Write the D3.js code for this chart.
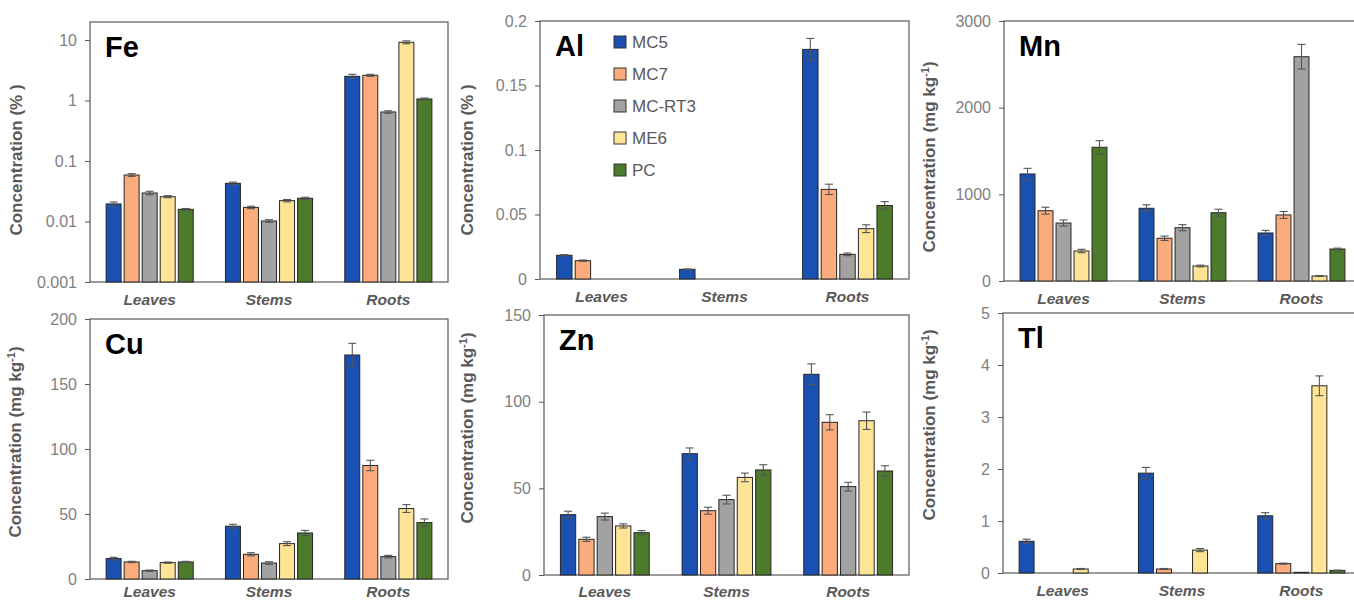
<!DOCTYPE html>
<meta charset="utf-8">
<style>
body { margin: 0; background: #fff; }
svg { font-family: "Liberation Sans", Arial, sans-serif; }
.frame { fill: none; stroke: #595959; stroke-width: 1.2; }
.tick text { fill: #808080; font-size: 16px; }
.tick line { stroke: #595959; }
.ylab { fill: #595959; font-size: 17px; font-weight: bold; }
.cat { fill: #595959; font-size: 15.5px; font-weight: bold; font-style: italic; }
.title { fill: #000; font-size: 29px; font-weight: bold; }
.bar { stroke: #262626; stroke-width: 1; }
.err { stroke: #555; stroke-width: 1.1; }
.leg text { fill: #595959; font-size: 17px; }
</style>
<body>
<svg width="1354" height="601"></svg>
</body>
<script src="https://cdn.jsdelivr.net/npm/d3@7"></script>
<script>

var categories = ["Leaves", "Stems", "Roots"];
var series = ["MC5", "MC7", "MC-RT3", "ME6", "PC"];
var colors = ["#1a50b2", "#fbab7c", "#a2a2a2", "#ffe495", "#4c7b2c"];

// values[series][category], errors likewise
var feValues = [[0.0195, 0.0428, 2.51], [0.0587, 0.0171, 2.61], [0.0296, 0.0102, 0.646], [0.0257, 0.0221, 9.17], [0.0159, 0.0242, 1.06]];
var feErrors = [[0.0015, 0.002, 0.2], [0.003, 0.0008, 0.1], [0.002, 0.0005, 0.03], [0.001, 0.001, 0.5], [0.0005, 0.001, 0.04]];

var alValues = [[0.0184, 0.0075, 0.178], [0.0142, 0, 0.0695], [0, 0, 0.0191], [0, 0, 0.039], [0, 0, 0.057]];
var alErrors = [[0.0005, 0.0003, 0.0085], [0.0005, 0, 0.004], [0, 0, 0.001], [0, 0, 0.003], [0, 0, 0.003]];

var mnValues = [[1235, 839, 554], [811, 493, 762], [669, 615, 2588], [346, 173, 58], [1543, 788, 369]];
var mnErrors = [[65, 40, 30], [40, 25, 40], [35, 35, 142], [20, 10, 5], [76, 40, 10]];

var cuValues = [[15.7, 40.6, 172.3], [13.1, 19.0, 87.3], [6.4, 12.3, 17.2], [12.6, 27.2, 54.2], [13.1, 35.4, 43.4]];
var cuErrors = [[1, 1.5, 9], [0.5, 1.2, 4], [0.5, 1, 1], [0.5, 1.5, 3], [0.5, 2, 2.8]];

var znValues = [[34.8, 70.0, 115.8], [20.6, 37.1, 88.1], [33.7, 43.5, 51.0], [28.3, 56.3, 89.0], [24.4, 60.6, 60.0]];
var znErrors = [[2, 3.3, 6], [1.2, 2, 4.4], [2, 2.5, 2.5], [1.2, 2.5, 5], [1.2, 3, 3]];

var tlValues = [[0.61, 1.92, 1.10], [0, 0.077, 0.18], [0, 0, 0.013], [0.077, 0.44, 3.60], [0, 0, 0.05]];
var tlErrors = [[0.04, 0.11, 0.06], [0, 0.01, 0.01], [0, 0, 0], [0.01, 0.03, 0.19], [0, 0, 0.005]];

var feTicks = [0.001, 0.01, 0.1, 1, 10];
var alTicks = [0, 0.05, 0.1, 0.15, 0.2];
var mnTicks = [0, 1000, 2000, 3000];
var cuTicks = [0, 50, 100, 150, 200];
var znTicks = [0, 50, 100, 150];
var tlTicks = [0, 1, 2, 3, 4, 5];

var svg = d3.select("svg");

var panels = [
  {name: "Fe", unit: "%", log: true, domain: [0.001, 10], ticks: feTicks, values: feValues, errors: feErrors,
   left: 90, right: 448, top: 40, frameTop: 22, bottom: 282, labX: 22, labY: 160},
  {name: "Al", unit: "%", domain: [0, 0.2], ticks: alTicks, values: alValues, errors: alErrors,
   left: 540, right: 909, top: 21, bottom: 279, labX: 473, labY: 160, legend: true},
  {name: "Mn", unit: "mg", domain: [0, 3000], ticks: mnTicks, values: mnValues, errors: mnErrors,
   left: 1004, right: 1361, top: 21, bottom: 281, labX: 935, labY: 157},
  {name: "Cu", unit: "mg", domain: [0, 200], ticks: cuTicks, values: cuValues, errors: cuErrors,
   left: 90, right: 448, top: 319, bottom: 579, labX: 21, labY: 442},
  {name: "Zn", unit: "mg", domain: [0, 150], ticks: znTicks, values: znValues, errors: znErrors,
   left: 544, right: 909, top: 315, bottom: 575, labX: 473, labY: 428},
  {name: "Tl", unit: "mg", domain: [0, 5], ticks: tlTicks, values: tlValues, errors: tlErrors,
   left: 1003, right: 1361, top: 313, bottom: 573, labX: 935, labY: 425}
];

panels.forEach(function(p) {
  var g = svg.append("g");
  var frameTop = p.frameTop || p.top;

  var y = (p.log ? d3.scaleLog() : d3.scaleLinear())
      .domain(p.domain)
      .range([p.bottom, p.top]);

  var x0 = d3.scaleBand()
      .domain(categories)
      .range([p.left, p.right]);

  var x1 = d3.scaleBand()
      .domain(series)
      .range([x0.bandwidth() * 0.135, x0.bandwidth() * 0.865])
      .paddingInner(0.17);

  g.append("rect")
      .attr("class", "frame")
      .attr("x", p.left)
      .attr("y", frameTop)
      .attr("width", p.right - p.left)
      .attr("height", p.bottom - frameTop);

  var axis = g.append("g")
      .attr("transform", "translate(" + p.left + ",0)")
      .call(d3.axisLeft(y)
        .tickValues(p.ticks)
        .tickSize(5)
        .tickPadding(8)
        .tickFormat(function(d) { return String(d); }));
  axis.select(".domain").remove();

  var bars = [];
  p.values.forEach(function(row, si) {
    row.forEach(function(v, ci) {
      if (v > 0) bars.push({s: si, c: ci, v: v, e: p.errors[si][ci]});
    });
  });

  var base = p.log ? p.domain[0] : 0;

  g.selectAll(".bar")
    .data(bars)
    .enter().append("rect")
      .attr("class", "bar")
      .attr("x", function(d) { return x0(categories[d.c]) + x1(series[d.s]); })
      .attr("y", function(d) { return y(d.v); })
      .attr("width", x1.bandwidth())
      .attr("height", function(d) { return y(base) - y(d.v); })
      .attr("fill", function(d) { return colors[d.s]; });

  var eb = g.selectAll(".eb")
    .data(bars.filter(function(d) { return d.e > 0; }))
    .enter().append("g")
      .attr("transform", function(d) {
        return "translate(" + (x0(categories[d.c]) + x1(series[d.s]) + x1.bandwidth() / 2) + ",0)";
      });
  eb.append("line").attr("class", "err")
      .attr("y1", function(d) { return y(Math.max(d.v - d.e, p.log ? 1e-6 : 0)); })
      .attr("y2", function(d) { return y(d.v + d.e); });
  eb.append("line").attr("class", "err")
      .attr("x1", -4).attr("x2", 4)
      .attr("y1", function(d) { return y(d.v + d.e); })
      .attr("y2", function(d) { return y(d.v + d.e); });
  eb.append("line").attr("class", "err")
      .attr("x1", -4).attr("x2", 4)
      .attr("y1", function(d) { return y(Math.max(d.v - d.e, p.log ? 1e-6 : 0)); })
      .attr("y2", function(d) { return y(Math.max(d.v - d.e, p.log ? 1e-6 : 0)); });

  g.selectAll(".cat")
    .data(categories)
    .enter().append("text")
      .attr("class", "cat")
      .attr("x", function(d) { return x0(d) + x0.bandwidth() / 2; })
      .attr("y", Math.min(p.bottom + 23, 597))
      .attr("text-anchor", "middle")
      .text(function(d) { return d; });

  g.append("text")
      .attr("class", "title")
      .attr("x", p.left + 15)
      .attr("y", frameTop + 35)
      .text(p.name);

  var lab = g.append("text")
      .attr("class", "ylab")
      .attr("text-anchor", "middle")
      .attr("transform", "translate(" + p.labX + "," + p.labY + ") rotate(-90)");
  if (p.unit === "%") {
    lab.text("Concentration (% )");
  } else {
    lab.append("tspan").text("Concentration (mg kg");
    lab.append("tspan").attr("dy", -6).attr("font-size", "11px").text("-1");
    lab.append("tspan").attr("dy", 6).text(")");
  }

  if (p.legend) {
    var leg = g.append("g").attr("class", "leg")
        .attr("transform", "translate(614,42)");
    var li = leg.selectAll("g")
      .data(series)
      .enter().append("g")
        .attr("transform", function(d, i) { return "translate(0," + (i * 32) + ")"; });
    li.append("rect")
        .attr("x", 0).attr("y", -6)
        .attr("width", 12).attr("height", 12)
        .attr("fill", function(d, i) { return colors[i]; })
        .attr("stroke", "#333");
    li.append("text")
        .attr("x", 18).attr("y", 6)
        .text(function(d) { return d; });
  }
});

</script>
